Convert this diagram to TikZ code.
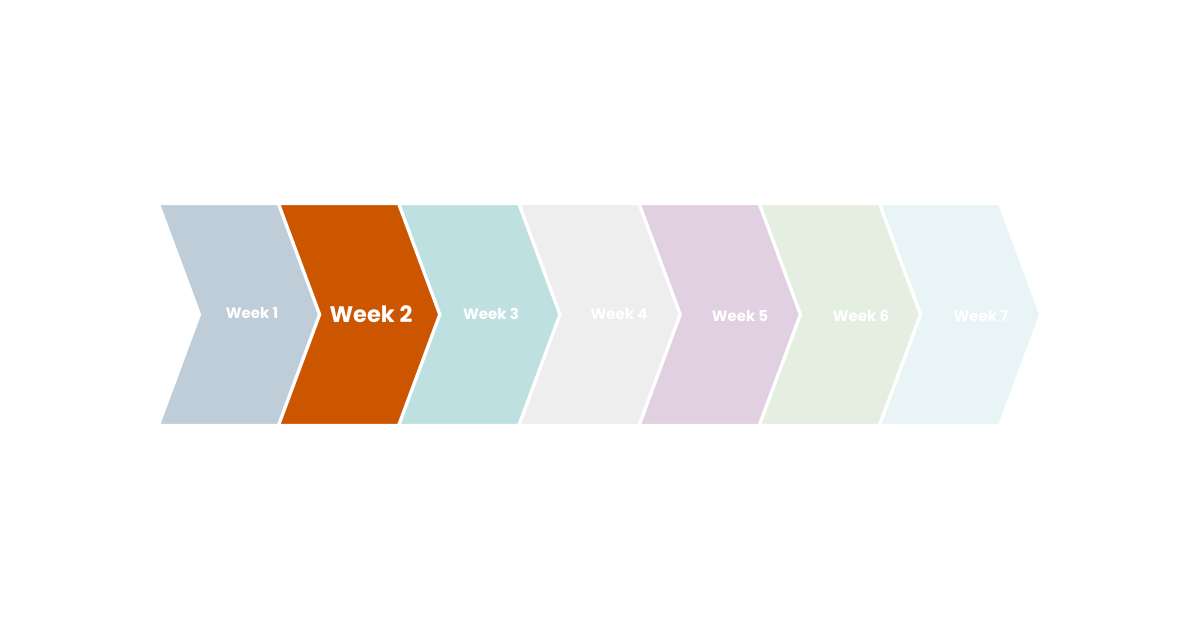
\documentclass[tikz,border=0pt]{standalone}
\usepackage{fontspec}
\setmainfont{Poppins}
\definecolor{cA}{HTML}{BFCDD9}
\definecolor{cB}{HTML}{CC5500}
\definecolor{cC}{HTML}{BFE0E0}
\definecolor{cD}{HTML}{EEEEEE}
\definecolor{cE}{HTML}{E1D0E1}
\definecolor{cF}{HTML}{E5EFE1}
\definecolor{cG}{HTML}{E8F4F6}
\tikzset{
  chev/.style={draw=white, line width=2.2pt, line join=miter},
  lbl/.style={text=white, font=\bfseries\fontsize{15}{18}\selectfont, anchor=center},
  lblbig/.style={text=white, font=\bfseries\fontsize{22.5}{27}\selectfont, anchor=center}
}
\begin{document}
\begin{tikzpicture}[x=1pt,y=-1pt]
\useasboundingbox (0,0) rectangle (1200,630);
\fill[white] (0,0) rectangle (1200,630);
\foreach \i/\c in {0/cA,1/cB,2/cC,3/cD,4/cE,5/cF,6/cG}{
  \pgfmathsetmacro{\xl}{159+120.2*\i}
  \filldraw[chev, fill=\c] (\xl,204) -- ({\xl+119},204) -- ({\xl+160},314.5) -- ({\xl+119},425) -- (\xl,425) -- ({\xl+41},314.5) -- cycle;
}
\node[lbl] (w1) at (252,313) {Week 1};
\node[lblbig] (w2) at (371,314) {Week 2};
\node[lbl] (w3) at (491,314) {Week 3};
\node[lbl] (w4) at (619,314) {Week 4};
\node[lbl] (w5) at (740,316) {Week 5};
\node[lbl] (w6) at (861,316) {Week 6};
\node[lbl] (w7) at (981,316) {Week 7};
\end{tikzpicture}
\end{document}
